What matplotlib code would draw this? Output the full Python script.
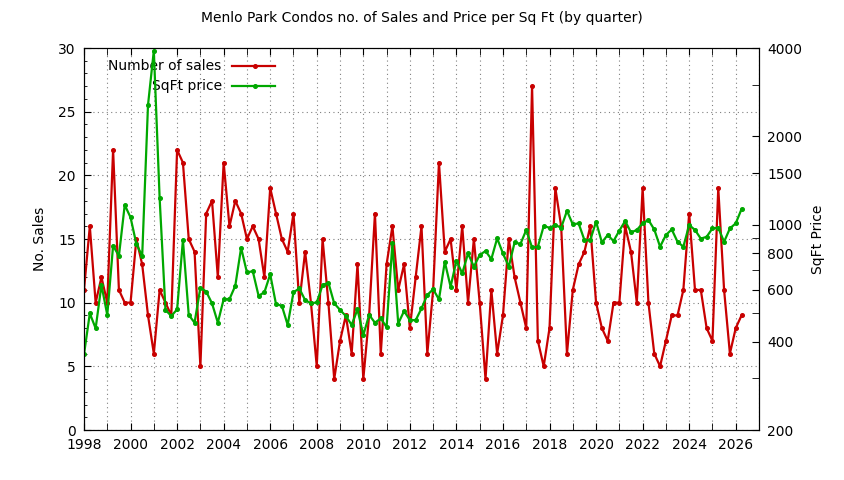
# Menlo Park condos - quarterly sales count and price per sq ft
import numpy as np
import matplotlib.pyplot as plt
from matplotlib.ticker import MultipleLocator, FixedLocator, NullFormatter

# quarters from 1998 Q1 to 2026 Q2
quarters = 1998 + np.arange(114) / 4.0

sales = [11, 16, 10, 12,  10, 22, 11, 10,  10, 15, 13, 9,   6, 11, 10, 9,
         22, 21, 15, 14,  5, 17, 18, 12,   21, 16, 18, 17,  15, 16, 15, 12,
         19, 17, 15, 14,  17, 10, 14, 10,  5, 15, 10, 4,    7, 9, 6, 13,
         4, 9, 17, 6,     13, 16, 11, 13,  8, 12, 16, 6,    11, 21, 14, 15,
         11, 16, 10, 15,  10, 4, 11, 6,    9, 15, 12, 10,   8, 27, 7, 5,
         8, 19, 16, 6,    11, 13, 14, 16,  10, 8, 7, 10,    10, 16, 14, 10,
         19, 10, 6, 5,    7, 9, 9, 11,     17, 11, 11, 8,   7, 19, 11, 6,
         8, 9]

sqft_price = [362, 499, 444, 623,    493, 849, 783, 1168,   1059, 860, 783, 2558,
              3918, 1230, 513, 489,  515, 887, 493, 464,    611, 592, 540, 464,
              558, 558, 620, 835,    688, 695, 573, 589,    678, 536, 530, 456,
              589, 607, 554, 540,    544, 623, 635, 540,    513, 489, 456, 515,
              421, 493, 464, 480,    448, 864, 461, 508,    474, 473, 519, 577,
              603, 557, 748, 615,    755, 683, 799, 720,    789, 814, 764, 899,
              799, 720, 871, 860,    960, 837, 842, 990,    977, 998, 977, 1116,
              1003, 1011, 887, 887,  1024, 871, 923, 880,   955, 1030, 942, 960,
              1011, 1038, 964, 842,  923, 964, 875, 842,    998, 960, 897, 910,
              972, 977, 875, 972,    1011, 1131]

price_ticks = [200, 400, 600, 800, 1000, 1500, 2000, 4000]
price_minor = [300, 500, 700, 900, 3000]

red = '#c80000'
green = '#00a800'
fs = 10

fig = plt.figure(figsize=(8.44, 4.8), dpi=100)
ax = fig.add_axes([84/844, 1 - 430/480, 675/844, 382/480])

ax.plot(quarters, sales, color=red, lw=1.6, marker='o', ms=2.6)
ax.set_xlim(1998, 2027)
ax.set_ylim(0, 30)
ax.xaxis.set_major_locator(MultipleLocator(2))
ax.xaxis.set_minor_locator(MultipleLocator(1))
ax.yaxis.set_major_locator(MultipleLocator(5))
ax.yaxis.set_minor_locator(MultipleLocator(1))
ax.tick_params(axis='x', which='both', direction='in', top=True, length=5, labelsize=fs, pad=6)
ax.tick_params(axis='y', which='major', direction='in', length=5, labelsize=fs, pad=6)
ax.tick_params(axis='y', which='minor', direction='in', length=2.5)
ax.grid(True, axis='x', which='both', linestyle=(0, (1, 3)), color='gray', lw=0.8)
ax.grid(True, axis='y', which='major', linestyle=(0, (1, 3)), color='gray', lw=0.8)
ax.set_ylabel('No. Sales', fontsize=fs, labelpad=8)

ax2 = ax.twinx()
ax2.plot(quarters, sqft_price, color=green, lw=1.6, marker='o', ms=2.6)
ax2.set_yscale('log')
ax2.set_ylim(200, 4000)
ax2.yaxis.set_major_locator(FixedLocator(price_ticks))
ax2.yaxis.set_major_formatter(plt.FuncFormatter(lambda v, p: '%d' % v))
ax2.yaxis.set_minor_locator(FixedLocator(price_minor))
ax2.yaxis.set_minor_formatter(NullFormatter())
ax2.tick_params(axis='y', which='major', direction='in', length=5, labelsize=fs, pad=6)
ax2.tick_params(axis='y', which='minor', direction='in', length=5)
ax2.set_ylabel('SqFt Price', fontsize=fs, labelpad=6)

# gnuplot style key: right aligned text, sample to the right
for i, (name, col) in enumerate([('Number of sales', red), ('SqFt price', green)]):
    yk = 0.953 - i * 0.0525
    ax.text(0.204, yk, name, transform=ax.transAxes, ha='right', va='center', fontsize=fs)
    ax.plot([0.219, 0.253, 0.283], [yk] * 3, transform=ax.transAxes, color=col,
            lw=1.6, marker='o', ms=2.6, markevery=[1], clip_on=False)

fig.text(0.5, 1 - 18/480, 'Menlo Park Condos no. of Sales and Price per Sq Ft (by quarter)',
         ha='center', va='center', fontsize=fs)

fig.savefig('out.png', dpi=100)
